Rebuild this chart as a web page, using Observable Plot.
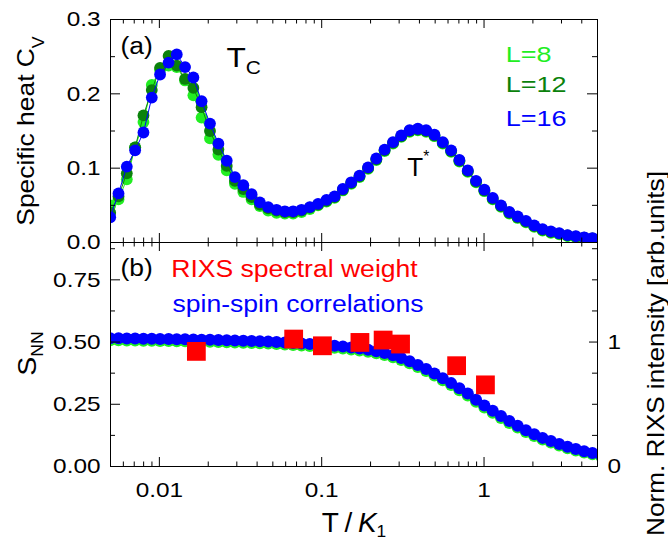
<!DOCTYPE html>
<html><head><meta charset="utf-8">
<script src="https://cdn.jsdelivr.net/npm/d3@7"></script>
<script src="https://cdn.jsdelivr.net/npm/@observablehq/plot@0.6"></script>
<style>
html,body{margin:0;padding:0;background:#fff;}
#chart{position:relative;width:668px;height:539px;}
#top,#bot{position:absolute;left:0;}
#top{top:0;} #bot{top:242px;}
</style></head><body>
<div id="chart"><div id="top"></div><div id="bot"></div></div>
<script>
// ---------- data ----------
const T = [0.00498, 0.00560, 0.00630, 0.00709, 0.00798, 0.00898, 0.0101, 0.0114, 0.0128, 0.0144,
  0.0162, 0.0182, 0.0205, 0.0231, 0.0260, 0.0292, 0.0329, 0.0370, 0.0416, 0.0468,
  0.0527, 0.0593, 0.0667, 0.0751, 0.0845, 0.0950, 0.107, 0.120, 0.135, 0.152,
  0.171, 0.193, 0.217, 0.244, 0.275, 0.309, 0.348, 0.391, 0.440, 0.495,
  0.557, 0.627, 0.705, 0.794, 0.893, 1.005, 1.131, 1.272, 1.431, 1.611,
  1.812, 2.039, 2.294, 2.581, 2.904, 3.268, 3.677, 4.137, 4.655, 5.238];
const cvL8 = [0.050, 0.058, 0.085, 0.128, 0.162, 0.212, 0.232, 0.238, 0.236, 0.218,
  0.198, 0.168, 0.140, 0.118, 0.097, 0.079, 0.068, 0.058, 0.049, 0.043,
  0.040, 0.039, 0.039, 0.041, 0.045, 0.050, 0.055, 0.060, 0.070, 0.079,
  0.088, 0.099, 0.111, 0.123, 0.133, 0.142, 0.149, 0.151, 0.149, 0.143,
  0.133, 0.122, 0.109, 0.095, 0.081, 0.069, 0.058, 0.048, 0.039, 0.033,
  0.027, 0.021, 0.016, 0.013, 0.011, 0.0085, 0.007, 0.0055, 0.0045, 0.0035];
const cvL12 = [0.040, 0.062, 0.093, 0.128, 0.171, 0.205, 0.235, 0.251, 0.238, 0.220,
  0.208, 0.182, 0.150, 0.125, 0.103, 0.083, 0.072, 0.061, 0.051, 0.046,
  0.043, 0.041, 0.041, 0.043, 0.047, 0.051, 0.056, 0.061, 0.071, 0.080,
  0.089, 0.100, 0.112, 0.124, 0.134, 0.143, 0.150, 0.152, 0.150, 0.144,
  0.134, 0.123, 0.110, 0.096, 0.082, 0.070, 0.059, 0.049, 0.040, 0.034,
  0.028, 0.022, 0.017, 0.014, 0.012, 0.0095, 0.008, 0.0065, 0.0055, 0.0045];
const cvL16 = [0.034, 0.066, 0.102, 0.124, 0.148, 0.195, 0.226, 0.242, 0.253, 0.236,
  0.222, 0.190, 0.160, 0.133, 0.110, 0.088, 0.077, 0.065, 0.054, 0.0475,
  0.044, 0.042, 0.042, 0.044, 0.0475, 0.052, 0.0574, 0.062, 0.072, 0.081,
  0.090, 0.101, 0.113, 0.125, 0.135, 0.144, 0.151, 0.153, 0.151, 0.145,
  0.135, 0.124, 0.111, 0.097, 0.083, 0.071, 0.060, 0.050, 0.041, 0.035,
  0.029, 0.023, 0.018, 0.015, 0.0125, 0.010, 0.0085, 0.007, 0.006, 0.005];
const snnL8 = [0.507, 0.507, 0.506, 0.506, 0.505, 0.505, 0.504, 0.504, 0.503, 0.503,
  0.502, 0.501, 0.501, 0.500, 0.499, 0.498, 0.497, 0.496, 0.495, 0.494,
  0.492, 0.490, 0.488, 0.486, 0.484, 0.482, 0.480, 0.477, 0.474, 0.470,
  0.466, 0.461, 0.455, 0.448, 0.439, 0.428, 0.415, 0.400, 0.384, 0.366,
  0.347, 0.327, 0.306, 0.285, 0.260, 0.237, 0.216, 0.195, 0.175, 0.157,
  0.139, 0.123, 0.108, 0.096, 0.084, 0.073, 0.064, 0.056, 0.049, 0.042];
const snnL16 = [0.515, 0.515, 0.514, 0.514, 0.513, 0.513, 0.512, 0.512, 0.511, 0.511,
  0.510, 0.509, 0.509, 0.508, 0.507, 0.506, 0.505, 0.504, 0.503, 0.502,
  0.500, 0.498, 0.496, 0.494, 0.492, 0.490, 0.488, 0.485, 0.482, 0.478,
  0.474, 0.469, 0.463, 0.456, 0.447, 0.436, 0.423, 0.408, 0.392, 0.374,
  0.355, 0.335, 0.314, 0.293, 0.268, 0.245, 0.224, 0.203, 0.183, 0.164,
  0.146, 0.130, 0.115, 0.102, 0.090, 0.079, 0.070, 0.061, 0.054, 0.047];
const rixsT = [0.0169, 0.0672, 0.101, 0.172, 0.239, 0.306, 0.678, 1.02];
const rixsI = [0.925, 1.024, 0.970, 0.997, 1.016, 0.984, 0.810, 0.656];
const RIXS_PER_SNN = 2; // right axis (RIXS intensity) = 2 x left axis (S_NN)

const seriesNames = ["L=8", "L=12", "L=16"];
const xDomain = [0.005, 5];
const xMajor = [0.01, 0.1, 1];
const xLabels = ["0.01", "0.1", "1"];
const xMinor = [0.005, 0.006, 0.007, 0.008, 0.009, 0.02, 0.03, 0.04, 0.05, 0.06, 0.07, 0.08, 0.09,
  0.2, 0.3, 0.4, 0.5, 0.6, 0.7, 0.8, 0.9, 2, 3, 4];
const cvMajor = [0, 0.1, 0.2, 0.3];
const cvLabels = ["0.0", "0.1", "0.2", "0.3"];
const cvMinor = [0.05, 0.15, 0.25];
const snnMajor = [0, 0.25, 0.5, 0.75];
const snnLabels = ["0.00", "0.25", "0.50", "0.75"];
const snnMinor = [0.125, 0.375, 0.625, 0.875];
const rixsMajor = [0, 1];
const rixsLabels = ["0", "1"];
const rixsMinor = [0.25, 0.5, 0.75, 1.25, 1.5, 1.75];

// ---------- styling ----------
const FONT = '"Liberation Sans", Arial, Helvetica, sans-serif';
const C8 = "#22ee22", C12 = "#0b820b", C16 = "#0000ff", CR = "#ff0000";
const colors = [C8, C12, C16];
const W = 668, ML = 110, MR = 71;
const FW = W - ML - MR;
const topH = 243, topMT = 19, topMB = 1, topFH = topH - topMT - topMB;
const botH = 297, botMT = 0, botMB = 73, botFH = botH - botMT - botMB;

const cvSeries = [cvL8, cvL12, cvL16].map((vals, s) => T.map((t, i) => ({T: t, v: vals[i], s: seriesNames[s]})));
const snnSeries = [snnL8, snnL16].map((vals, s) => T.map((t, i) => ({T: t, v: vals[i]})));
const rixs = rixsT.map((t, i) => ({T: t, I: rixsI[i]}));

function ticksX(FH, major, minor) {
  return [
    Plot.tickX(major, {x: d => d, insetTop: FH - 9, stroke: "black"}),
    Plot.tickX(minor, {x: d => d, insetTop: FH - 4.5, stroke: "black"}),
    Plot.tickX(major, {x: d => d, insetBottom: FH - 9, stroke: "black"}),
    Plot.tickX(minor, {x: d => d, insetBottom: FH - 4.5, stroke: "black"})
  ];
}
function ticksY(values, len, side) {
  return side === "left"
    ? Plot.tickY(values, {y: d => d, insetRight: FW - len, stroke: "black"})
    : Plot.tickY(values, {y: d => d, insetLeft: FW - len, stroke: "black"});
}
function seriesMarks(rows, color, r) {
  return [
    Plot.line(rows, {x: "T", y: "v", stroke: color, strokeWidth: 1, clip: true}),
    Plot.dot(rows, {x: "T", y: "v", r, fill: color, clip: true})
  ];
}

const topPlot = Plot.plot({
  width: W, height: topH, marginLeft: ML, marginRight: MR, marginTop: topMT, marginBottom: topMB,
  style: {fontFamily: FONT, fontSize: "21px", color: "black", background: "transparent", overflow: "visible"},
  x: {type: "log", domain: xDomain, axis: null},
  y: {domain: [0, 0.3], axis: null},
  marks: [
    ...cvSeries.flatMap((rows, s) => seriesMarks(rows, colors[s], 5.9)),
    Plot.frame({stroke: "black", strokeWidth: 1}),
    ...ticksX(topFH, xMajor, xMinor),
    ticksY(cvMajor, 10, "left"), ticksY(cvMinor, 5, "left"),
    ticksY(cvMajor, 10, "right"), ticksY(cvMinor, 5, "right"),
    Plot.axisY(cvMajor, {anchor: "left", tickSize: 0, tickPadding: 10, fontSize: 21,
      tickFormat: d => cvLabels[cvMajor.indexOf(d)], label: null}),
    Plot.text(["Specific heat C_{V}"], {frameAnchor: "left", rotate: -90, dx: -77, dy: 0,
      lineAnchor: "bottom", textAnchor: "middle", fontSize: 24}),
    Plot.text(["(a)"], {frameAnchor: "top-left", dx: 10, dy: 34, lineAnchor: "bottom", textAnchor: "start", fontSize: 23}),
    Plot.text(["T_{C}"], {frameAnchor: "top-left", dx: 116, dy: 47.7, lineAnchor: "bottom", textAnchor: "start", fontSize: 28}),
    Plot.text(["T^{*}"], {frameAnchor: "top-left", dx: 296.8, dy: 156.7, lineAnchor: "bottom", textAnchor: "start", fontSize: 26}),
    ...seriesNames.map((name, s) => Plot.text([name], {frameAnchor: "top-left", dx: 395.3, dy: [42, 72.7, 106][s],
      lineAnchor: "bottom", textAnchor: "start", fontSize: 22.5, fill: colors[s]}))
  ]
});

const botPlot = Plot.plot({
  width: W, height: botH, marginLeft: ML, marginRight: MR, marginTop: botMT, marginBottom: botMB,
  style: {fontFamily: FONT, fontSize: "21px", color: "black", background: "transparent", overflow: "visible"},
  x: {type: "log", domain: xDomain, axis: null},
  y: {domain: [0, 0.9], axis: null},
  marks: [
    ...seriesMarks(snnSeries[0], C8, 6),
    ...seriesMarks(snnSeries[1], C16, 6),
    Plot.dot(rixs, {x: "T", y: d => d.I / RIXS_PER_SNN, symbol: "square", r: 10.6, fill: CR}),
    Plot.frame({stroke: "black", strokeWidth: 1}),
    ...ticksX(botFH, xMajor, xMinor),
    ticksY(snnMajor, 10, "left"), ticksY(snnMinor, 5, "left"),
    ticksY(rixsMajor.map(v => v / RIXS_PER_SNN), 8, "right"),
    ticksY(rixsMinor.map(v => v / RIXS_PER_SNN), 5, "right"),
    Plot.axisY(snnMajor, {anchor: "left", tickSize: 0, tickPadding: 10, fontSize: 21,
      tickFormat: d => snnLabels[snnMajor.indexOf(d)], label: null}),
    Plot.axisY(rixsMajor.map(v => v / RIXS_PER_SNN), {anchor: "right", tickSize: 0, tickPadding: 10, fontSize: 21,
      tickFormat: d => rixsLabels[rixsMajor.indexOf(d * RIXS_PER_SNN)], label: null}),
    Plot.axisX(xMajor, {anchor: "bottom", tickSize: 0, tickPadding: 16, fontSize: 21,
      tickFormat: d => xLabels[xMajor.indexOf(d)], label: null}),
    Plot.text(["S_{NN}"], {frameAnchor: "left", rotate: -90, dx: -75, dy: -1,
      lineAnchor: "bottom", textAnchor: "middle", fontSize: 25.5}),
    Plot.text(["Norm. RIXS intensity [arb.units]"], {frameAnchor: "right", rotate: -90, dx: 66, dy: -1,
      lineAnchor: "bottom", textAnchor: "middle", fontSize: 24}),
    Plot.text(["T\u2009/\u2009~{K}_{1}"], {frameAnchor: "bottom", dx: 0, dy: 65, lineAnchor: "bottom", textAnchor: "middle", fontSize: 28}),
    Plot.text(["(b)"], {frameAnchor: "top-left", dx: 10, dy: 33, lineAnchor: "bottom", textAnchor: "start", fontSize: 23}),
    Plot.text(["RIXS spectral weight"], {frameAnchor: "top-left", dx: 60.7, dy: 34.7, lineAnchor: "bottom", textAnchor: "start", fontSize: 23.3, fill: CR}),
    Plot.text(["spin-spin correlations"], {frameAnchor: "top-left", dx: 62, dy: 69, lineAnchor: "bottom", textAnchor: "start", fontSize: 23.3, fill: C16})
  ]
});

document.getElementById("top").appendChild(topPlot);
document.getElementById("bot").appendChild(botPlot);

// ---------- rich text (sub/superscripts, italics) and glyph width matching ----------
const NS = "http://www.w3.org/2000/svg";
const RICH = {
  "Specific heat C_{V}": {size: 24, sub: [0.67, 0.45], stretch: 1.1},
  "S_{NN}": {size: 25.5, sub: [0.62, 0.3], stretch: 1.12},
  "Norm. RIXS intensity [arb.units]": {size: 24, stretch: 1.09},
  "T\u2009/\u2009~{K}_{1}": {size: 28, sub: [0.62, 0.18], stretch: 1.0},
  "T_{C}": {size: 28, sub: [0.66, 0.24], stretch: 1.13},
  "T^{*}": {size: 26, sup: [0.6, 0.54], stretch: 1.0},
  "(a)": {size: 23, stretch: 1.15},
  "(b)": {size: 23, stretch: 1.15},
  "L=8": {size: 22.5, stretch: 1.2},
  "L=12": {size: 22.5, stretch: 1.2},
  "L=16": {size: 22.5, stretch: 1.2},
  "RIXS spectral weight": {size: 23.3, stretch: 1.14},
  "spin-spin correlations": {size: 23.3, stretch: 1.14}
};
function setRich(el, raw, spec) {
  const F = spec.size;
  el.textContent = "";
  let shift = 0;
  const add = (t, kind) => {
    const ts = document.createElementNS(NS, "tspan");
    ts.textContent = t;
    let target = 0;
    if (kind === "_") { ts.setAttribute("font-size", F * spec.sub[0]); target = spec.sub[1] * F; }
    else if (kind === "^") { ts.setAttribute("font-size", F * spec.sup[0]); target = -spec.sup[1] * F; }
    else if (kind === "~") { ts.setAttribute("font-style", "italic"); }
    if (target !== shift) { ts.setAttribute("dy", target - shift); shift = target; }
    el.appendChild(ts);
  };
  const re = /([_^~])\{([^}]*)\}/g;
  let last = 0, m;
  while ((m = re.exec(raw))) {
    if (m.index > last) add(raw.slice(last, m.index), null);
    add(m[2], m[1]);
    last = re.lastIndex;
  }
  if (last < raw.length) add(raw.slice(last), null);
}
function stretch(el, f) {
  if (f === 1) return;
  const L = el.getComputedTextLength();
  el.setAttribute("textLength", (L * f).toFixed(2));
  el.setAttribute("lengthAdjust", "spacingAndGlyphs");
}
for (const svg of [topPlot, botPlot]) {
  svg.querySelectorAll("text").forEach(el => {
    const raw = el.textContent;
    const spec = RICH[raw];
    if (spec) {
      if (/[_^~]\{/.test(raw)) setRich(el, raw, spec);
      stretch(el, spec.stretch);
    } else if (el.closest('g[aria-label$="tick label"]')) {
      stretch(el, 1.16);
    }
  });
}
</script>
</body></html>
